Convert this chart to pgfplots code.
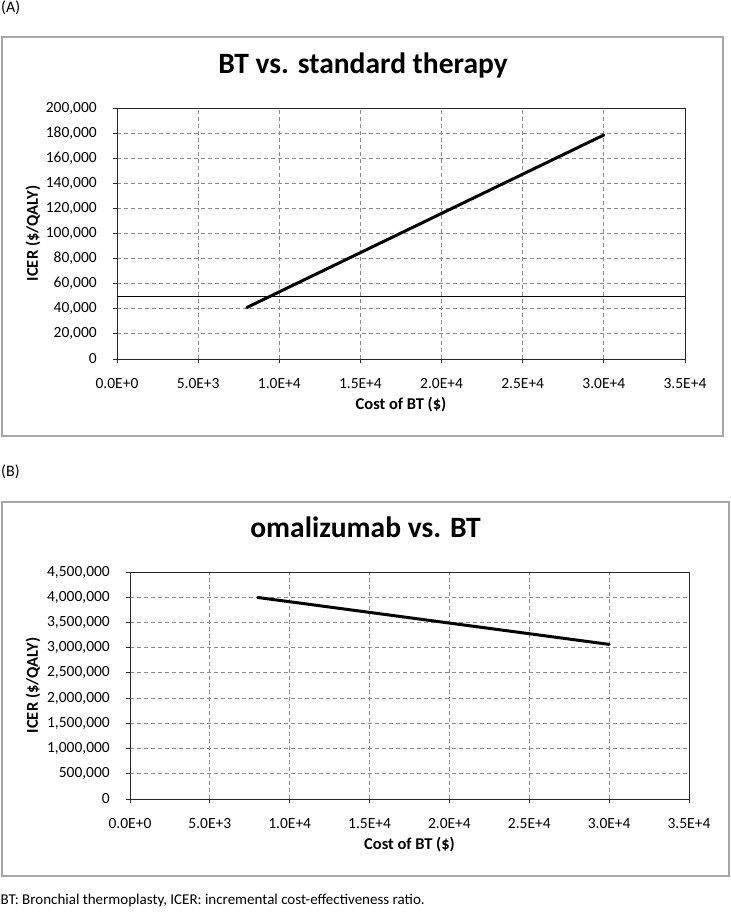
\documentclass[border=0pt]{standalone}
\usepackage{pgfplots}
\pgfplotsset{compat=1.18}
\usepackage{fontspec}
\setmainfont{Carlito}
\definecolor{gridgray}{HTML}{8C8C8C}
\definecolor{framegray}{HTML}{A6A6A6}
\pgfplotsset{
  excelstyle/.style={
    scale only axis,
    scaled ticks=false,
    axis line style={black!85, line width=0.9pt},
    xmin=0, xmax=35000,
    xtick={0,5000,10000,15000,20000,25000,30000,35000},
    xticklabels={0.0E+0,5.0E+3,1.0E+4,1.5E+4,2.0E+4,2.5E+4,3.0E+4,3.5E+4},
    xtick pos=left, ytick pos=left,
    tick align=outside,
    major tick length=4pt,
    tick style={black!85, line width=0.8pt},
    grid=major,
    major grid style={gridgray, line width=0.8pt, dash pattern=on 4pt off 3pt},
    ticklabel style={font=\fontsize{15.5}{18}\selectfont, inner sep=0pt},
    xticklabel style={anchor=center, yshift=-21pt},
    yticklabel style={anchor=east, xshift=-16pt},
    label style={font=\fontsize{16.5}{19}\selectfont\bfseries},
    title style={font=\fontsize{29.5}{34}\selectfont\bfseries, anchor=base, inner sep=0pt},
    xlabel style={at={(axis description cs:0.5,0)}, anchor=center, yshift=-46pt, inner sep=0pt},
    xlabel={Cost of BT (\$)},
    ylabel={ICER (\$/QALY)},
  }
}
\begin{document}
\begin{tikzpicture}
\path[use as bounding box] (0,0) rectangle (731pt,916pt);
% panel labels and frames
\node[anchor=base west, inner sep=0pt, font=\fontsize{16}{18}\selectfont] at (1pt,903pt) {(A)};
\draw[framegray, line width=1.2pt] (2pt,480pt) rectangle (723pt,879pt);
\node[anchor=base west, inner sep=0pt, font=\fontsize{16}{18}\selectfont] at (1pt,439pt) {(B)};
\draw[framegray, line width=1.2pt] (2pt,40pt) rectangle (729pt,414pt);
\node[anchor=base west, inner sep=0pt, font=\fontsize{15}{18}\selectfont] at (0.5pt,12pt) {BT: Bronchial thermoplasty, ICER: incremental cost-effectiveness ratio.};

% (A)
\begin{axis}[excelstyle,
  at={(117pt,557pt)}, anchor=south west,
  width=568pt, height=251pt,
  ymin=0, ymax=200000,
  ytick={0,20000,40000,60000,80000,100000,120000,140000,160000,180000,200000},
  yticklabels={0,{20,000},{40,000},{60,000},{80,000},{100,000},{120,000},{140,000},{160,000},{180,000},{200,000}},
  ylabel style={at={([xshift=-84pt]axis description cs:0,0.5)}, anchor=center, inner sep=0pt},
  title={BT vs. standard therapy},
  title style={at={(axis description cs:0.5,1)}, xshift=-38pt, yshift=28pt},
]
\addplot[black, line width=0.9pt, forget plot] coordinates {(0,50000) (35000,50000)};
\addplot[black, line width=3pt, line cap=round] coordinates {(8000,41000) (30000,178500)};
\end{axis}

% (B)
\begin{axis}[excelstyle,
  at={(130pt,117pt)}, anchor=south west,
  width=559pt, height=227pt,
  ymin=0, ymax=4500000,
  ytick={0,500000,1000000,1500000,2000000,2500000,3000000,3500000,4000000,4500000},
  yticklabels={0,{500,000},{1,000,000},{1,500,000},{2,000,000},{2,500,000},{3,000,000},{3,500,000},{4,000,000},{4,500,000}},
  ylabel style={at={([xshift=-97pt]axis description cs:0,0.5)}, anchor=center, inner sep=0pt},
  title={omalizumab vs. BT},
  title style={at={(axis description cs:0.5,1)}, xshift=-44pt, yshift=28pt},
]
\addplot[black, line width=3pt, line cap=round] coordinates {(8000,3995000) (30000,3065000)};
\end{axis}
\end{tikzpicture}
\end{document}
